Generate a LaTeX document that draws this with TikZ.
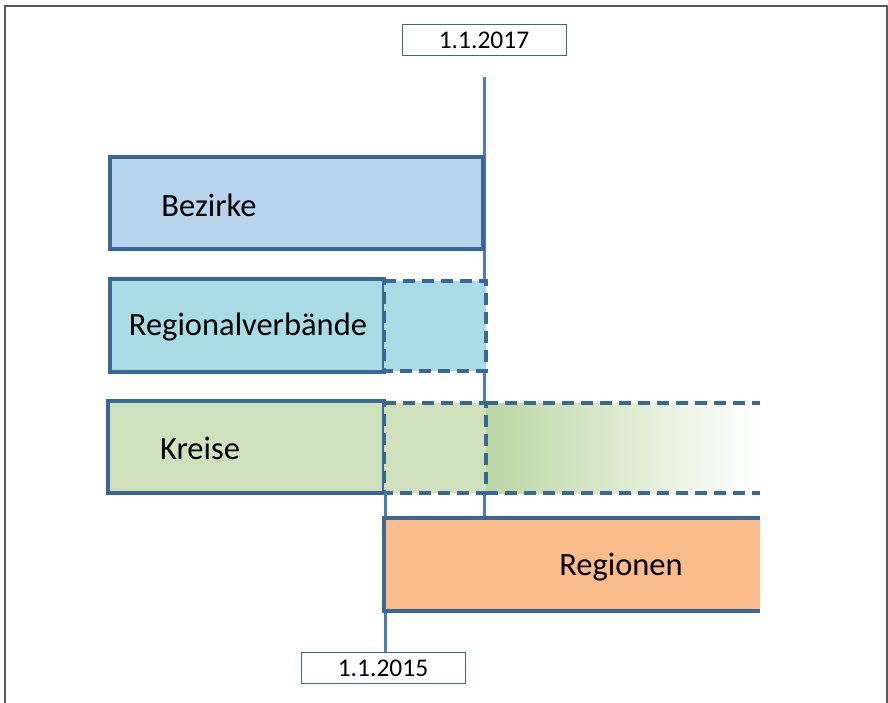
\documentclass[tikz,border=0pt]{standalone}
\usepackage{fontspec}
\setmainfont{Carlito}
\definecolor{edge}{HTML}{3A6796}
\definecolor{tl}{HTML}{4A7EBB}
\definecolor{bez}{HTML}{B8D3EC}
\definecolor{reg}{HTML}{A9DBE4}
\definecolor{kre}{HTML}{CEE1BC}
\definecolor{kreg}{HTML}{BAD7A3}
\definecolor{rgn}{HTML}{F9BB8A}
\definecolor{frame}{HTML}{595959}
\begin{document}
\begin{tikzpicture}[x=1pt,y=-1pt,
  bar/.style={draw=edge,line width=3.5pt,rectangle,inner sep=0pt},
  dbar/.style={draw=edge,line width=3.5pt,dash pattern=on 12pt off 7pt},
  tline/.style={draw=tl,line width=3pt},
  datebox/.style={draw=edge,line width=1pt,fill=white,minimum width=164pt,minimum height=31pt,inner sep=0pt,font=\fontsize{25.5}{30}\selectfont},
  lab/.style={font=\fontsize{32.5}{38}\selectfont,inner sep=0pt}]
\useasboundingbox (0,0) rectangle (888,703);
% frame
\draw[frame,line width=2pt] (4.5,703) -- (4.5,6.5) -- (887,6.5) -- (887,703);
% time lines
\coordinate (t17top) at (484,77);
\coordinate (t17bot) at (484,521);
\path[tline] (t17top) -- (t17bot);
% Bezirke
\node[bar,fill=bez,minimum width=373pt,minimum height=92pt] (bez) at (296.5,203) {};
\node[lab] (bezt) at (209,205) {Bezirke};
% Regionalverbaende
\node[bar,fill=reg,minimum width=274pt,minimum height=93pt] (rv) at (247,325.5) {};
\fill[reg] (384,281) rectangle (486,371);
\draw[dbar] (384,281) -- (486,281) -- (486,371) -- (384,371) -- cycle;
\node[lab] (rvt) at (248,327) {Regionalverbände};
% Kreise
\node[bar,fill=kre,minimum width=276pt,minimum height=92pt] (kr) at (246,447) {};
\fill[kre] (384,403) rectangle (486,493);
\shade[left color=kreg,right color=white] (486,403) rectangle (758,493);
\draw[dbar] (384,403) -- (486,403) -- (486,493) -- (384,493) -- cycle;
\draw[dbar] (486,403) -- (760,403);
\draw[dbar] (486,493) -- (760,493);
\node[lab] (krt) at (200,448) {Kreise};
% time line 2015 (lower part)
\coordinate (t15a) at (385,493);
\coordinate (t15b) at (385,653);
\path[tline] (t15a) -- (t15b);
% Regionen
\fill[rgn] (384,518) rectangle (760,611);
\draw[edge,line width=3.5pt] (760,518) -- (384,518) -- (384,611) -- (760,611);
\node[lab] (rgt) at (621,567) {Regionen};
% date boxes
\node[datebox] (d17) at (484,40.5) {1.1.2017};
\node[datebox] (d15) at (383,668) {1.1.2015};
\end{tikzpicture}
\end{document}
